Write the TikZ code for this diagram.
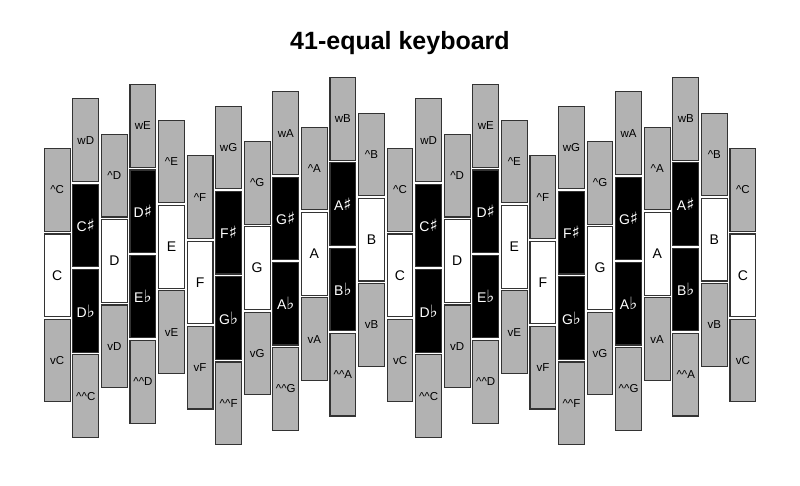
\documentclass[tikz,border=0pt]{standalone}
\usepackage{fontspec}
\setmainfont{Liberation Sans}
\newfontfamily\symfont{DejaVu Sans}
\definecolor{keyborder}{RGB}{51,51,51}
\definecolor{keygray}{RGB}{178,178,178}
\tikzset{
  keybase/.style={draw=keyborder, line width=1.1pt, minimum width=25.8pt, minimum height=82.6pt, inner sep=0pt, anchor=center},
  graykey/.style={keybase, fill=keygray, text=black, font=\fontsize{11.5}{13}\selectfont},
  whitekey/.style={keybase, fill=white, text=black, font=\fontsize{14}{16}\selectfont},
  blackkey/.style={keybase, fill=black, text=white, font=\fontsize{14}{16}\selectfont},
  titletext/.style={font=\bfseries\fontsize{25}{29}\selectfont}
}
\newcommand\sharpsign{{\symfont\fontsize{17}{17}\selectfont\char"266F}}
\newcommand\flatsign{{\symfont\fontsize{17}{17}\selectfont\char"266D}}
\newcommand\whitecol[3]{%
  \pgfmathsetmacro\cx{57.2+28.57*#1}%
  \pgfmathsetmacro\cy{275.3-7.13*(#2)}%
  \pgfmathsetmacro\ya{\cy-85.3}%
  \pgfmathsetmacro\yb{\cy+85.3}%
  \node[graykey] (t#1) at (\cx,\ya) {\textasciicircum#3};
  \node[whitekey] (m#1) at (\cx,\cy) {#3};
  \node[graykey] (b#1) at (\cx,\yb) {v#3};
}
\newcommand\blackcol[4]{%
  \pgfmathsetmacro\cx{57.2+28.57*#1}%
  \pgfmathsetmacro\cy{275.3-7.13*(#2)}%
  \pgfmathsetmacro\ya{\cy-127.95}%
  \pgfmathsetmacro\yh{\cy-42.65}%
  \pgfmathsetmacro\yl{\cy+42.65}%
  \pgfmathsetmacro\yb{\cy+127.95}%
  \node[graykey] (t#1) at (\cx,\ya) {w#4};
  \node[blackkey] (h#1) at (\cx,\yh) {#3\sharpsign};
  \node[blackkey] (l#1) at (\cx,\yl) {#4\flatsign};
  \node[graykey] (b#1) at (\cx,\yb) {\textasciicircum\textasciicircum#3};
}
\begin{document}
\begin{tikzpicture}[x=1pt,y=-1pt]
\useasboundingbox (0,0) rectangle (800,485);
\node[titletext] (title) at (400,43) {41-equal keyboard};
\whitecol{0}{0}{C}
\blackcol{1}{1}{C}{D}
\whitecol{2}{2}{D}
\blackcol{3}{3}{D}{E}
\whitecol{4}{4}{E}
\whitecol{5}{-1}{F}
\blackcol{6}{0}{F}{G}
\whitecol{7}{1}{G}
\blackcol{8}{2}{G}{A}
\whitecol{9}{3}{A}
\blackcol{10}{4}{A}{B}
\whitecol{11}{5}{B}
\whitecol{12}{0}{C}
\blackcol{13}{1}{C}{D}
\whitecol{14}{2}{D}
\blackcol{15}{3}{D}{E}
\whitecol{16}{4}{E}
\whitecol{17}{-1}{F}
\blackcol{18}{0}{F}{G}
\whitecol{19}{1}{G}
\blackcol{20}{2}{G}{A}
\whitecol{21}{3}{A}
\blackcol{22}{4}{A}{B}
\whitecol{23}{5}{B}
\whitecol{24}{0}{C}
\end{tikzpicture}
\end{document}
